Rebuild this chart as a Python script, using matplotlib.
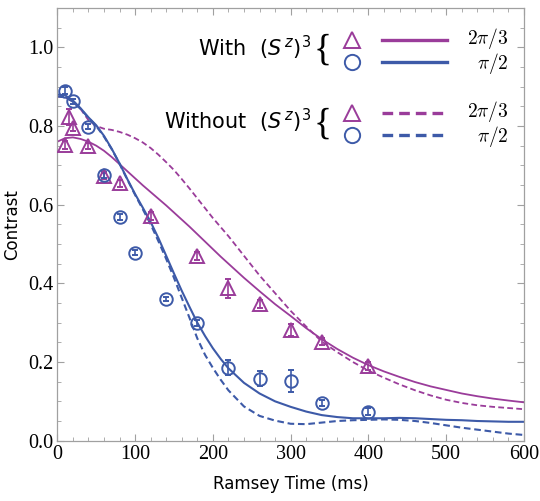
import numpy as np
import matplotlib
matplotlib.use("Agg")
from matplotlib import pyplot as plt
from matplotlib.lines import Line2D
from matplotlib.ticker import MultipleLocator, FormatStrFormatter

#%% data
# measured points (Ramsey time in ms, contrast)
t_circ = [10, 20, 40, 60, 80, 100, 140, 180, 220, 260, 300, 340, 400]
c_circ = [0.890, 0.863, 0.798, 0.675, 0.569, 0.478, 0.360, 0.300, 0.186, 0.158, 0.152, 0.095, 0.074]
e_circ = [0.008, 0.006, 0.006, 0.008, 0.008, 0.006, 0.005, 0.008, 0.020, 0.020, 0.028, 0.008, 0.008]

t_tri = [10, 15, 20, 40, 60, 80, 120, 180, 220, 260, 300, 340, 400]
c_tri = [0.751, 0.823, 0.796, 0.749, 0.673, 0.654, 0.572, 0.470, 0.387, 0.347, 0.281, 0.252, 0.190]
e_tri = [0.010, 0.020, 0.010, 0.008, 0.008, 0.008, 0.010, 0.010, 0.025, 0.010, 0.015, 0.010, 0.010]

# theory curves
t_fit = [0, 10, 20, 30, 40, 50, 60, 70, 80, 90, 100, 110, 120, 130, 140, 150, 160, 170, 180, 190,
         200, 210, 220, 240, 260, 280, 300, 320, 340, 360, 380, 400, 420, 440, 460, 480, 500,
         520, 540, 560, 580, 600]
with_23 = [0.760, 0.769, 0.771, 0.767, 0.760, 0.750, 0.737, 0.721, 0.703, 0.685, 0.667, 0.649,
           0.632, 0.615, 0.598, 0.580, 0.562, 0.544, 0.525, 0.506, 0.487, 0.468, 0.450, 0.414,
           0.380, 0.347, 0.317, 0.286, 0.258, 0.233, 0.211, 0.192, 0.176, 0.162, 0.149, 0.138,
           0.129, 0.120, 0.113, 0.107, 0.102, 0.0975]
with_12 = [0.880, 0.878, 0.865, 0.845, 0.822, 0.802, 0.775, 0.742, 0.705, 0.665, 0.627, 0.592,
           0.556, 0.515, 0.470, 0.425, 0.381, 0.340, 0.300, 0.266, 0.235, 0.208, 0.184, 0.147,
           0.120, 0.100, 0.086, 0.074, 0.065, 0.060, 0.057, 0.057, 0.057, 0.058, 0.057, 0.055,
           0.053, 0.052, 0.050, 0.049, 0.048, 0.048]
without_23 = [0.875, 0.873, 0.862, 0.843, 0.815, 0.800, 0.793, 0.790, 0.785, 0.778, 0.769, 0.758,
              0.744, 0.727, 0.708, 0.688, 0.665, 0.641, 0.616, 0.591, 0.566, 0.543, 0.520, 0.470,
              0.420, 0.375, 0.330, 0.290, 0.252, 0.225, 0.200, 0.178, 0.160, 0.143, 0.128, 0.115,
              0.104, 0.096, 0.090, 0.086, 0.083, 0.080]
without_12 = [0.875, 0.873, 0.862, 0.843, 0.821, 0.800, 0.773, 0.741, 0.704, 0.664, 0.625, 0.588,
              0.550, 0.507, 0.462, 0.414, 0.363, 0.312, 0.260, 0.218, 0.185, 0.155, 0.128, 0.087,
              0.063, 0.051, 0.043, 0.042, 0.046, 0.050, 0.052, 0.053, 0.054, 0.053, 0.050, 0.045,
              0.039, 0.033, 0.028, 0.023, 0.018, 0.0145]

purple = "#9a3c9a"
blue = "#3d5aa8"
frame = "#a0a0a0"

#%%
plt.rcParams["font.family"] = "DejaVu Sans"
fig = plt.figure(figsize=(5.4, 5.01), dpi=100)
ax = fig.add_axes([0.1061, 0.1204, 0.8643, 0.8637])

dash = (0, (3.2, 1.8))
ax.plot(t_fit, without_23, color=purple, lw=1.3, ls=dash)
ax.plot(t_fit, with_23, color=purple, lw=1.3)
ax.plot(t_fit, without_12, color=blue, lw=1.5, ls=dash)
ax.plot(t_fit, with_12, color=blue, lw=1.5)

ax.errorbar(t_tri, c_tri, yerr=e_tri, fmt="^", ms=9.5, mfc="none", mec=purple, mew=1.4,
            ecolor=purple, elinewidth=1.2, capsize=2.5, zorder=4)
ax.errorbar(t_circ, c_circ, yerr=e_circ, fmt="o", ms=9, mfc="none", mec=blue, mew=1.4,
            ecolor=blue, elinewidth=1.2, capsize=2.5, zorder=4)

ax.set_xlim(0, 600)
ax.set_ylim(0, 1.1)
ax.xaxis.set_major_locator(MultipleLocator(100))
ax.xaxis.set_minor_locator(MultipleLocator(20))
ax.yaxis.set_major_locator(MultipleLocator(0.2))
ax.yaxis.set_minor_locator(MultipleLocator(0.05))
ax.yaxis.set_major_formatter(FormatStrFormatter("%.1f"))
ax.tick_params(which="both", direction="in", top=True, right=True, color=frame,
               labelfontfamily="Liberation Serif", labelsize=14.5)
ax.tick_params(which="major", length=5, width=0.8)
ax.tick_params(which="minor", length=3, width=0.6)
ax.tick_params(axis="x", pad=3)
ax.tick_params(axis="y", pad=3)
for s in ax.spines.values():
    s.set_color(frame)
    s.set_linewidth(0.9)

ax.set_xlabel("Ramsey Time (ms)", fontsize=12)
ax.set_ylabel("Contrast", fontsize=12)
ax.xaxis.set_label_coords(0.5, -0.08)
ax.yaxis.set_label_coords(-0.078, 0.5)

#%% hand-made legend in pixel positions
W, H = 540, 501
def fx(px):
    return px / W
def fy(py):
    return 1 - py / H

for txt, yc, yb in [("With  $(S^{\\,z})^3$", 48, 50), ("Without  $(S^{\\,z})^3$", 121, 124)]:
    fig.text(fx(311), fy(yc), txt, fontsize=15, ha="right", va="center",
             math_fontfamily="dejavusans")
    fig.text(fx(323), fy(yb), "{", fontsize=27, ha="center", va="center",
             family="Liberation Serif")

rows = [(40, "^", purple, "-", "$2\\pi/3$", -1.5), (62, "o", blue, "-", "$\\pi/2$", 1.5),
        (113, "^", purple, dash, "$2\\pi/3$", -1.5), (135, "o", blue, dash, "$\\pi/2$", 1.5)]
for py, mk, col, ls, lab, dy in rows:
    fig.add_artist(Line2D([fx(352)], [fy(py)], marker=mk, ms=12 if mk == "^" else 11,
                          mfc="none", mec=col, mew=1.4, ls="none"))
    fig.add_artist(Line2D([fx(382), fx(447)], [fy(py), fy(py)], color=col, lw=2.4, ls=ls))
    fig.text(fx(509), fy(py + dy), lab, fontsize=14, ha="right", va="center",
             math_fontfamily="cm")

fig.savefig("out.png", dpi=100)
